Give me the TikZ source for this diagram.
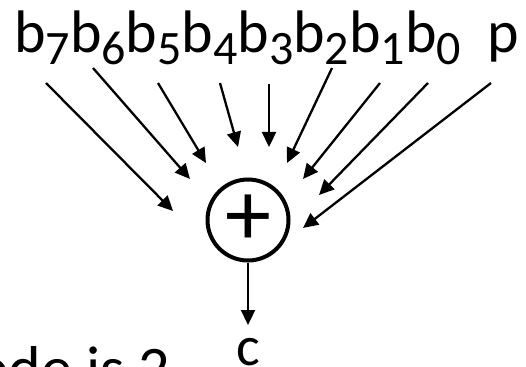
\documentclass[tikz,border=0pt]{standalone}
\usepackage{fontspec}
\setmainfont{Carlito}
\usetikzlibrary{arrows.meta}
% lowered, slightly smaller index digit
\newcommand\bitidx[1]{\raisebox{-12pt}{\fontsize{48}{48}\selectfont #1}}

\begin{document}
\begin{tikzpicture}[x=1pt, y=-1pt,
  feed/.style={line width=2.3pt, -{Triangle[length=15pt,width=14pt]}},
  label/.style={inner sep=0pt, anchor=base west},
  xorgate/.style={circle, draw, line width=4pt, minimum size=81pt, inner sep=0pt,
                  font=\fontsize{92}{92}\selectfont}]
\useasboundingbox (0,0) rectangle (526,366);
\clip (0,0) rectangle (526,366);

% input word and parity bit
\node[label, font=\fontsize{60}{60}\selectfont] (bits) at (14,53)
  {b\bitidx{7}b\bitidx{6}b\bitidx{5}b\bitidx{4}b\bitidx{3}b\bitidx{2}b\bitidx{1}b\bitidx{0}};
\node[label, font=\fontsize{60}{60}\selectfont] (par) at (487,53) {p};

% exclusive-or gate
\node[xorgate] (xor) at (248,220) {+};

% arrow tails under the inputs
\coordinate (s7) at (46,83);
\coordinate (s6) at (93,68);
\coordinate (s5) at (158,83);
\coordinate (s4) at (220,83);
\coordinate (s3) at (269,84);
\coordinate (s2) at (332,68);
\coordinate (s1) at (380,83);
\coordinate (s0) at (428,83);
\coordinate (sp) at (491,83);
% arrow tips around the gate
\coordinate (t7) at (173,211);
\coordinate (t6) at (190,179);
\coordinate (t5) at (206,163);
\coordinate (t4) at (238,147);
\coordinate (t3) at (269,147);
\coordinate (t2) at (287,163);
\coordinate (t1) at (303,179);
\coordinate (t0) at (319,195);
\coordinate (tp) at (303,228);

\foreach \k in {7,6,5,4,3,2,1,0,p}
  \draw[feed] (s\k) -- (t\k);

% result
\coordinate (tc) at (250,325);
\draw[feed] (xor.south) -- (xor.south |- tc);
\node[inner sep=0pt, anchor=base, font=\fontsize{56}{56}\selectfont] (res) at (248,365) {c};

\node[label, font=\fontsize{62}{62}\selectfont] (note) at (-24,389) {ode is 2};
\end{tikzpicture}
\end{document}
